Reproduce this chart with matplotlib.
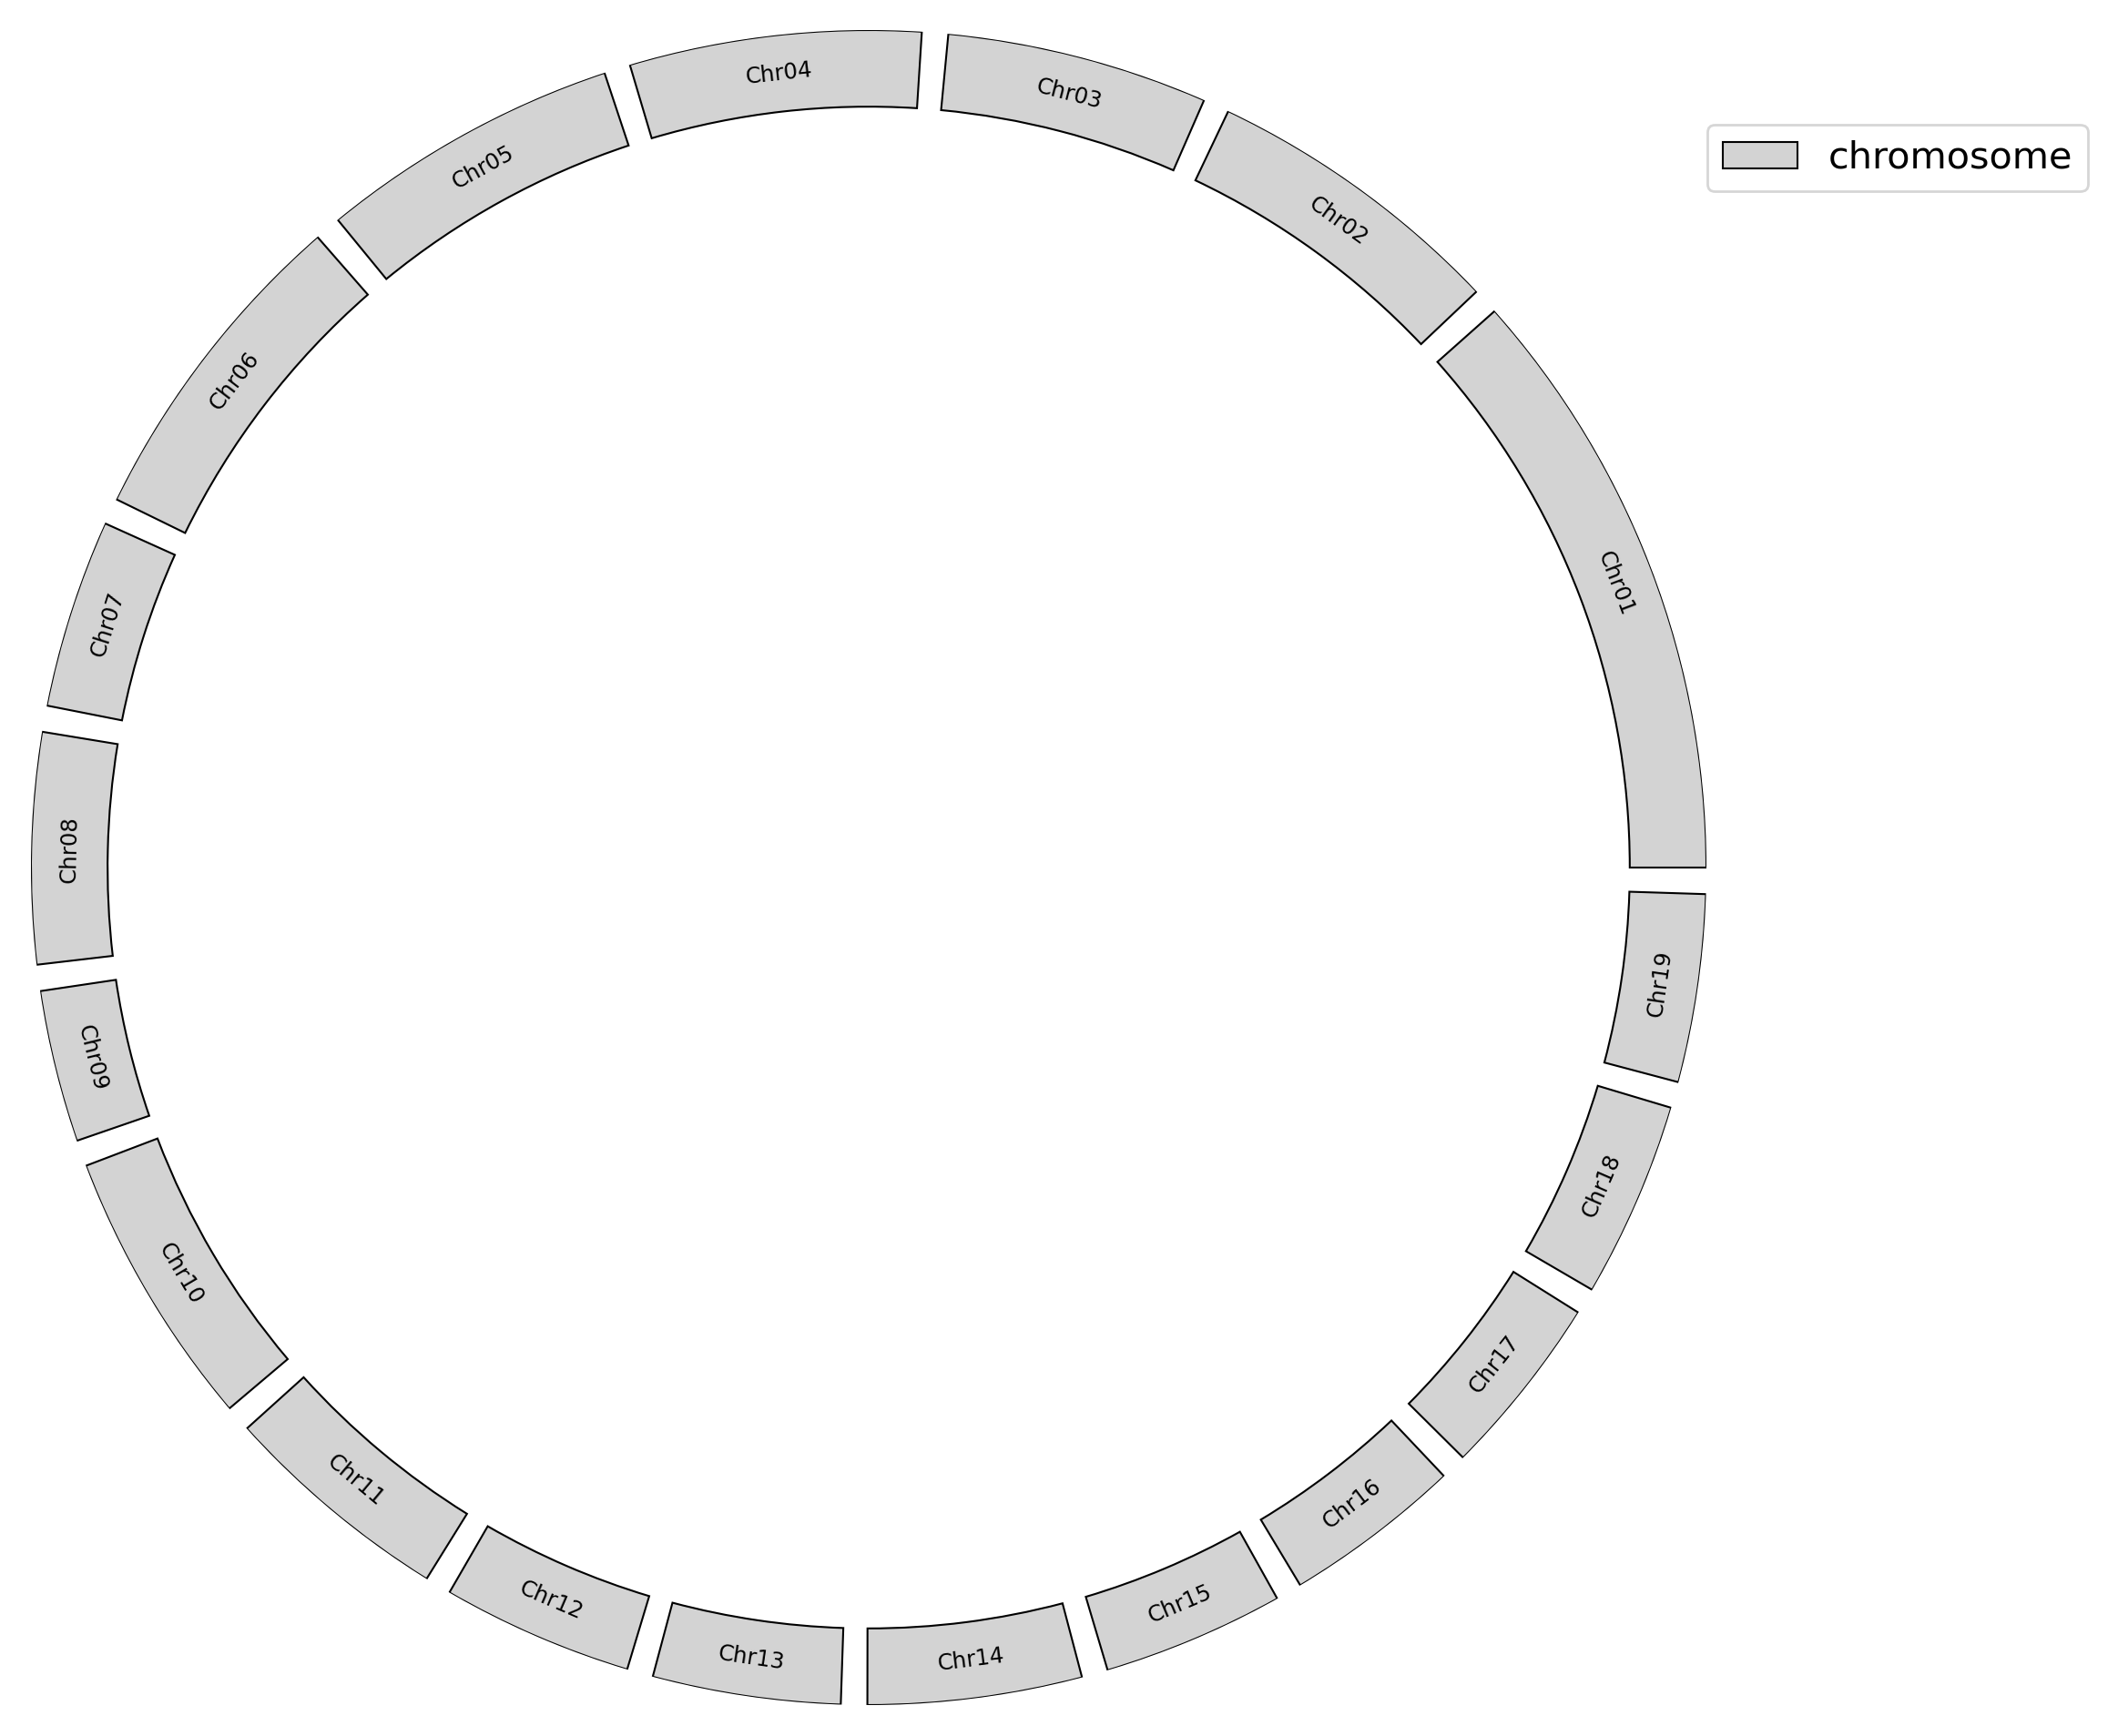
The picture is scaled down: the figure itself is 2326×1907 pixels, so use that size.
import numpy as np
import matplotlib
matplotlib.use("Agg")
import matplotlib.pyplot as plt

# Chromosome names and lengths (Mb, estimated from arc spans)
chrom_names = ["Chr01", "Chr02", "Chr03", "Chr04", "Chr05", "Chr06", "Chr07",
               "Chr08", "Chr09", "Chr10", "Chr11", "Chr12", "Chr13", "Chr14",
               "Chr15", "Chr16", "Chr17", "Chr18", "Chr19"]
chrom_lengths = [50.5, 25.6, 22.0, 24.5, 25.4, 27.6, 15.9,
                 19.4, 12.8, 23.5, 19.5, 16.1, 15.8, 18.0,
                 15.3, 15.0, 15.4, 16.5, 15.8]

gap_deg = 1.82
r_in = 90.85
r_out = 100.0

W, H = 2326, 1907
dpi = 200
fig = plt.figure(figsize=(W / dpi, H / dpi), dpi=dpi)
cx, cy_top, R = 954, 953, 920
ax = fig.add_axes([(cx - R) / W, (H - cy_top - R) / H, 2 * R / W, 2 * R / H],
                  projection="polar")

lengths = np.array(chrom_lengths, dtype=float)
avail = 360.0 - gap_deg * len(lengths)
spans = lengths / lengths.sum() * avail
starts = np.concatenate([[0.0], np.cumsum(spans + gap_deg)[:-1]])
mids = starts + spans / 2

ax.bar(np.deg2rad(mids), r_out - r_in, width=np.deg2rad(spans), bottom=r_in,
       color="lightgray", edgecolor="black", linewidth=0.75, align="center",
       label="chromosome")

r_lab = (r_in + r_out) / 2
for name, m in zip(chrom_names, mids):
    rot = m - 90 if m < 180 else m + 90
    if rot > 180:
        rot -= 360
    ax.text(np.deg2rad(m), r_lab, name, rotation=rot, rotation_mode="anchor",
            ha="center", va="center", fontsize=8.8, color="black")

ax.set_ylim(0, r_out)
ax.set_axis_off()

ax.legend(loc="upper left", bbox_to_anchor=(1875 / W, 1 - 137 / H),
          bbox_transform=fig.transFigure, borderaxespad=0, fontsize=14.9)

fig.savefig("out.png", dpi=dpi)
